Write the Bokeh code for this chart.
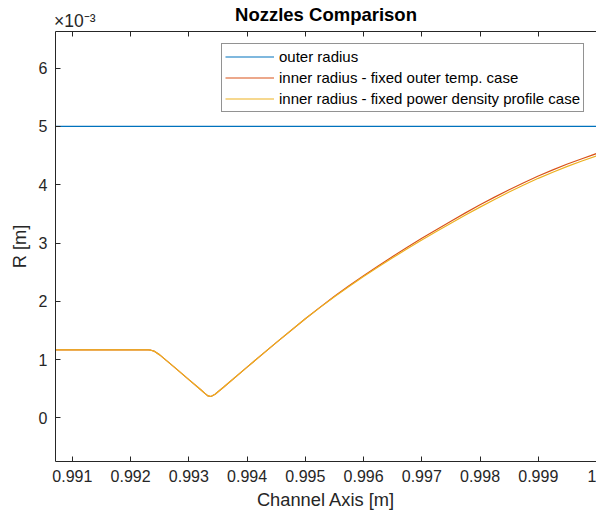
import numpy as np
from bokeh.plotting import figure
from bokeh.models import (Range1d, FixedTicker, CustomJSTickFormatter, LinearAxis,
                          Legend, LegendItem)
from bokeh.embed import file_html
from bokeh.resources import INLINE

# Channel axis positions [m]
channel_axis = [0.99071, 0.99230, 0.99235, 0.99240, 0.99250, 0.99275, 0.99300,
                0.99320, 0.99328, 0.99333, 0.99338, 0.99345, 0.99360, 0.99400,
                0.99450, 0.99500, 0.99525, 0.99550, 0.99575, 0.99600, 0.99625,
                0.99650, 0.99675, 0.99700, 0.99725, 0.99750, 0.99775, 0.99800,
                0.99825, 0.99850, 0.99875, 0.99900, 0.99925, 0.99950, 0.99975,
                1.00000]

# Outer radius is constant along the channel [m]
outer_axis = [0.99071, 1.00000]
outer_radius = [5.0e-3, 5.0e-3]

# Inner radius, fixed outer temperature case [m]
inner_fixed_temp = [1.165e-3, 1.165e-3, 1.160e-3, 1.145e-3, 1.080e-3, 0.870e-3, 0.655e-3,
                    0.485e-3, 0.415e-3, 0.375e-3, 0.365e-3, 0.405e-3, 0.530e-3, 0.870e-3,
                    1.290e-3, 1.700e-3, 1.895e-3, 2.085e-3, 2.265e-3, 2.440e-3, 2.607e-3,
                    2.770e-3, 2.927e-3, 3.080e-3, 3.229e-3, 3.375e-3, 3.517e-3, 3.655e-3,
                    3.787e-3, 3.915e-3, 4.035e-3, 4.150e-3, 4.255e-3, 4.355e-3, 4.447e-3,
                    4.535e-3]

# Inner radius, fixed power density profile case [m]
inner_fixed_power = [1.165e-3, 1.165e-3, 1.160e-3, 1.145e-3, 1.080e-3, 0.870e-3, 0.655e-3,
                     0.485e-3, 0.415e-3, 0.375e-3, 0.365e-3, 0.405e-3, 0.530e-3, 0.870e-3,
                     1.290e-3, 1.700e-3, 1.891e-3, 2.077e-3, 2.253e-3, 2.424e-3, 2.587e-3,
                     2.746e-3, 2.900e-3, 3.050e-3, 3.196e-3, 3.340e-3, 3.480e-3, 3.616e-3,
                     3.747e-3, 3.875e-3, 3.995e-3, 4.110e-3, 4.215e-3, 4.315e-3, 4.407e-3,
                     4.495e-3]

x_ticks = [0.991, 0.992, 0.993, 0.994, 0.995, 0.996, 0.997, 0.998, 0.999, 1.0]
y_ticks = [0.0, 1e-3, 2e-3, 3e-3, 4e-3, 5e-3, 6e-3]

series_names = ["outer radius",
                "inner radius - fixed outer temp. case",
                "inner radius - fixed power density profile case"]
series_colors = ["#0072BD", "#D95319", "#EDB120"]

TITLE = "Nozzles Comparison"
Y_EXPONENT = "\u00a0×10⁻³"

FONT = "Liberation Sans"
AX_COLOR = "#262626"

p = figure(width=596, height=516, output_backend="svg", toolbar_location=None,
           x_range=Range1d(0.99071, 1.0), y_range=Range1d(-0.75e-3, 6.63e-3),
           min_border_left=55, min_border_right=0, min_border_top=30, min_border_bottom=55,
           background_fill_color="white", border_fill_color="white")
p.outline_line_color = None
p.grid.visible = False
p.title.text = ""

x_fmt = CustomJSTickFormatter(code="return tick > 0.99995 ? '1' : tick.toFixed(3);")
y_fmt = CustomJSTickFormatter(code="return Math.round(tick * 1000).toString();")


def style_axis(ax):
    ax.axis_line_color = AX_COLOR
    ax.major_tick_line_color = AX_COLOR
    ax.major_tick_in = 5
    ax.major_tick_out = 0
    ax.minor_tick_line_color = None
    ax.major_label_text_font = FONT
    ax.major_label_text_font_size = "16px"
    ax.major_label_text_color = AX_COLOR
    ax.axis_label_text_font = FONT
    ax.axis_label_text_font_size = "18.3px"
    ax.axis_label_text_font_style = "normal"
    ax.axis_label_text_color = AX_COLOR


xa = p.xaxis[0]
xa.ticker = FixedTicker(ticks=x_ticks)
xa.formatter = x_fmt
xa.axis_label = "Channel Axis [m]"
style_axis(xa)
xa.major_label_standoff = 8
xa.axis_label_standoff = 4

ya = p.yaxis[0]
ya.ticker = FixedTicker(ticks=y_ticks)
ya.formatter = y_fmt
ya.axis_label = "R [m]"
style_axis(ya)
ya.major_label_standoff = 8
ya.axis_label_standoff = 6

# top edge of the box: inward ticks, the y-scale exponent over the first tick,
# and the chart title as this axis' label on the same row
top = LinearAxis(ticker=FixedTicker(ticks=x_ticks),
                 formatter=CustomJSTickFormatter(
                     args=dict(exp=Y_EXPONENT),
                     code="return index == 0 ? exp : '';"))
style_axis(top)
top.major_label_text_font_size = "17.5px"
top.major_label_standoff = 1
top.axis_label = TITLE
top.axis_label_text_font_size = "18.5px"
top.axis_label_text_font_style = "bold"
top.axis_label_text_color = "black"
top.axis_label_standoff = -17
p.add_layout(top, "above")

r_outer = p.line(outer_axis, outer_radius, line_color=series_colors[0], line_width=1.2)
r_temp = p.line(channel_axis, inner_fixed_temp, line_color=series_colors[1], line_width=1.2)
r_power = p.line(channel_axis, inner_fixed_power, line_color=series_colors[2], line_width=1.2)

legend = Legend(items=[LegendItem(label=series_names[0], renderers=[r_outer]),
                       LegendItem(label=series_names[1], renderers=[r_temp]),
                       LegendItem(label=series_names[2], renderers=[r_power])],
                location=(166, 349), orientation="vertical",
                glyph_width=49, glyph_height=19, label_height=19, spacing=2,
                padding=3, margin=0, label_standoff=5,
                label_text_font=FONT, label_text_font_size="15px", label_text_color="black",
                border_line_color=AX_COLOR, border_line_width=1,
                background_fill_color="white", background_fill_alpha=1.0)
p.add_layout(legend, "center")

open("out.html", "w").write(file_html(p, INLINE))
